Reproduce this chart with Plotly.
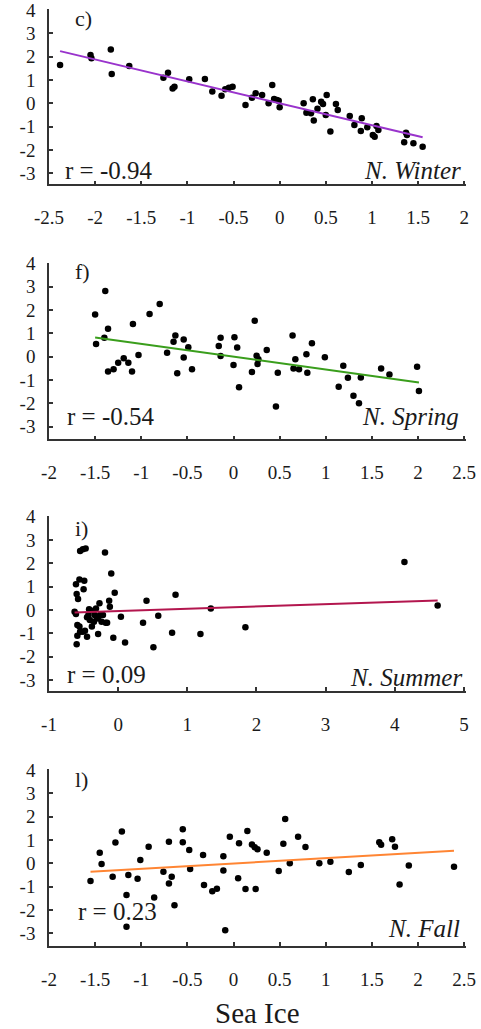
import plotly.graph_objects as go

# ---------------- data ----------------
winter_x = [-2.38, -2.05, -2.04, -1.83, -1.82, -1.63, -1.26, -1.21, -1.16, -1.14, -0.98, -0.81, -0.73,
            -0.63, -0.59, -0.55, -0.51, -0.37, -0.30, -0.26, -0.19, -0.12, -0.08, -0.06, -0.03, -0.01,
            0.0, 0.26, 0.29, 0.34, 0.36, 0.37, 0.41, 0.45, 0.47, 0.50, 0.51, 0.55, 0.61, 0.63, 0.76,
            0.81, 0.88, 0.89, 0.95, 1.01, 1.03, 1.05, 1.07, 1.35, 1.37, 1.38, 1.45, 1.55]
winter_y = [1.64, 2.07, 1.93, 2.31, 1.26, 1.60, 1.10, 1.31, 0.64, 0.71, 1.03, 1.04, 0.51,
            0.33, 0.60, 0.67, 0.71, -0.07, 0.24, 0.43, 0.36, 0.00, 0.79, 0.19, 0.14, 0.11,
            -0.17, 0.00, -0.40, -0.43, 0.17, -0.74, -0.23, 0.07, -0.03, -0.50, 0.36, -1.21, -0.03, -0.29, -0.54,
            -0.93, -1.19, -0.64, -1.03, -1.36, -1.43, -0.97, -1.14, -1.67, -1.26, -1.36, -1.71, -1.86]

spring_x = [-1.50, -1.49, -1.40, -1.39, -1.36, -1.36, -1.30, -1.25, -1.19, -1.14, -1.10, -1.09, -1.03,
            -0.91, -0.80, -0.72, -0.65, -0.63, -0.61, -0.54, -0.54, -0.49, -0.45, -0.16, -0.14, -0.14,
            0.00, 0.01, 0.04, 0.06, 0.20, 0.23, 0.25, 0.26, 0.27, 0.36, 0.46, 0.48, 0.64, 0.65, 0.67,
            0.71, 0.79, 0.80, 0.85, 0.99, 1.14, 1.19, 1.24, 1.30, 1.36, 1.38, 1.60, 1.69, 1.99, 2.01]
spring_y = [1.81, 0.54, 0.81, 2.81, 1.20, -0.64, -0.54, -0.26, -0.07, -0.26, -0.64, 1.40, 0.07,
            1.83, 2.26, 0.17, 0.64, 0.91, -0.71, -0.04, 0.74, 0.40, -0.54, 0.46, 0.81, 0.03,
            -0.36, 0.83, 0.39, -1.31, -0.66, 1.54, 0.04, -0.31, -0.11, 0.29, -2.14, -0.69, 0.91, -0.51, -0.11,
            -0.54, 0.10, -0.69, 0.57, -0.03, -1.29, -0.39, -0.90, -1.67, -2.00, -0.89, -0.51, -0.76, -0.43, -1.47]

summer_x = [-0.61, -0.60, -0.58, -0.63, -0.61, -0.59, -0.60, -0.59, -0.56, -0.55, -0.51, -0.47, -0.49,
            -0.50, -0.56, -0.55, -0.51, -0.48, -0.45, -0.45, -0.43, -0.42, -0.41, -0.38, -0.36, -0.35,
            -0.34, -0.32, -0.31, -0.29, -0.29, -0.27, -0.26, -0.24, -0.22, -0.19, -0.18, -0.16, -0.13,
            -0.12, -0.10, -0.07, -0.05, 0.04, 0.10, 0.36, 0.41, 0.51, 0.58, 0.78, 0.83, 1.19, 1.34,
            1.84, 4.14, 4.62]
summer_y = [1.11, 0.69, 0.47, -0.07, -0.17, -0.64, -1.47, -1.10, 1.31, 2.53, 2.60, 2.64, 1.26,
            0.89, -0.71, -0.93, -0.93, -0.89, -1.14, -0.31, -0.21, 0.03, -0.43, -0.71, -0.03, -0.50,
            -0.21, 0.07, -0.29, -1.03, -0.36, 0.29, -0.21, -0.50, -0.21, 2.47, -0.54, -0.54, 0.40,
            0.14, 1.57, -1.19, 0.74, -0.29, -1.39, -0.54, 0.40, -1.60, -0.24, -0.97, 0.66, -1.03, 0.07,
            -0.74, 2.06, 0.19]

fall_x = [-1.55, -1.45, -1.43, -1.31, -1.28, -1.21, -1.16, -1.16, -1.14, -1.04, -1.01, -0.92, -0.86,
          -0.76, -0.70, -0.70, -0.67, -0.64, -0.55, -0.55, -0.48, -0.47, -0.33, -0.32, -0.23, -0.18,
          -0.11, -0.11, -0.09, -0.04, 0.05, 0.06, 0.13, 0.15, 0.20, 0.23, 0.24, 0.26, 0.36, 0.49,
          0.54, 0.56, 0.61, 0.70, 0.78, 0.93, 1.05, 1.25, 1.38, 1.58, 1.60, 1.72, 1.75, 1.80, 1.90, 2.39]
fall_y = [-0.76, 0.46, -0.03, -0.57, 0.89, 1.36, -1.36, -2.71, -0.50, -0.66, 0.14, 0.71, -1.46,
          -0.36, -0.86, 0.93, -0.57, -1.79, 1.46, 0.91, 0.57, -0.24, 0.36, -0.93, -1.19, -1.09,
          0.31, -0.31, -2.87, 1.14, -0.64, 0.86, -1.10, 1.39, 0.81, 0.69, -1.10, 0.60, 0.46, -0.33,
          0.84, 1.90, 0.00, 1.14, 0.70, 0.00, 0.07, -0.37, -0.07, 0.90, 0.80, 1.03, 0.71, -0.90, -0.09, -0.14]

# regression lines: slope, intercept
fit_slope = [-0.94, -0.55, 0.096, 0.229]
fit_intercept = [0.0, 0.0, -0.04, -0.005]

panel_letters = ["c)", "f)", "i)", "l)"]
r_labels = ["r = -0.94", "r = -0.54", "r = 0.09", "r = 0.23"]
season_labels = ["N. Winter", "N. Spring", "N. Summer", "N. Fall"]
line_colors = ["#9933CC", "#3A9E1C", "#B3164E", "#FF8533"]
x_ranges = [[-2.5, 2.02], [-2.0, 2.52], [-1.0, 5.03], [-2.0, 2.52]]
x_tickvals = [
    [-2.5, -2, -1.5, -1, -0.5, 0, 0.5, 1, 1.5, 2],
    [-2, -1.5, -1, -0.5, 0, 0.5, 1, 1.5, 2, 2.5],
    [-1, 0, 1, 2, 3, 4, 5],
    [-2, -1.5, -1, -0.5, 0, 0.5, 1, 1.5, 2, 2.5],
]
y_tickvals = [-3, -2, -1, 0, 1, 2, 3, 4]
x_title = "Sea Ice"


def fmt(v):
    # hyphen-minus labels as in the reference
    return ("%g" % v).replace("\u2212", "-")


# ---------------- layout geometry ----------------
W, H = 481, 1029
x_dom = [49 / W, 466 / W]
panels_px = [(9.3, 184.3), (263.3, 439.3), (516, 691), (769.3, 946)]
y_ranges = [[-3.47, 4.03], [-3.54, 4.0], [-3.47, 4.03], [-3.54, 4.03]]
letter_y = [0.95, 0.952, 0.93, 0.943]
r_pos = [(0.034, 0.078), (0.038, 0.132), (0.038, 0.095), (0.065, 0.194)]
season_pos = [(0.992, 0.078), (0.988, 0.132), (0.995, 0.08), (0.99, 0.10)]

FONT = "Liberation Serif"
TXT = "#1a1a1a"
xs = [winter_x, spring_x, summer_x, fall_x]
ys = [winter_y, spring_y, summer_y, fall_y]

fig = go.Figure()
layout = dict(
    width=W, height=H, margin=dict(l=0, r=0, t=0, b=0, autoexpand=False),
    paper_bgcolor="white", plot_bgcolor="white", showlegend=False,
    font=dict(family=FONT, size=19, color=TXT),
)
annotations = []
for i in range(4):
    n = "" if i == 0 else str(i + 1)
    xa, ya = "x" + n, "y" + n
    fig.add_trace(go.Scatter(x=xs[i], y=ys[i], mode="markers", xaxis=xa, yaxis=ya,
                             marker=dict(color="black", size=6.5)))
    x0, x1 = min(xs[i]), max(xs[i])
    fig.add_trace(go.Scatter(x=[x0, x1],
                             y=[fit_slope[i] * x0 + fit_intercept[i], fit_slope[i] * x1 + fit_intercept[i]],
                             mode="lines", xaxis=xa, yaxis=ya,
                             line=dict(color=line_colors[i], width=2)))
    top, bot = panels_px[i]
    layout["xaxis" + n] = dict(
        domain=x_dom, anchor=ya, range=x_ranges[i], automargin=False,
        tickmode="array", tickvals=x_tickvals[i], ticktext=[fmt(v) for v in x_tickvals[i]],
        showline=True, linecolor="#333", linewidth=1.5, mirror=False,
        ticks="inside", ticklen=4, tickcolor="#333", tickwidth=1.5,
        showgrid=False, zeroline=False, ticklabelstandoff=15, ticklabeloverflow="allow",
        tickfont=dict(family=FONT, size=19, color=TXT),
    )
    layout["yaxis" + n] = dict(
        domain=[1 - bot / H, 1 - top / H], anchor=xa, range=y_ranges[i], automargin=False,
        tickmode="array", tickvals=y_tickvals, ticktext=[fmt(v) for v in y_tickvals],
        showline=True, linecolor="#333", linewidth=1.5, mirror=False,
        ticks="inside", ticklen=4, tickcolor="#333", tickwidth=1.5,
        showgrid=False, zeroline=False, ticklabelstandoff=8, ticklabeloverflow="allow",
        tickfont=dict(family=FONT, size=19, color=TXT),
    )
    annotations.append(dict(text=panel_letters[i], xref=xa + " domain", yref=ya + " domain",
                            x=0.058, y=letter_y[i], xanchor="left", yanchor="middle", showarrow=False,
                            font=dict(family=FONT, size=22, color=TXT)))
    annotations.append(dict(text=r_labels[i], xref=xa + " domain", yref=ya + " domain",
                            x=r_pos[i][0], y=r_pos[i][1], xanchor="left", yanchor="middle", showarrow=False,
                            font=dict(family=FONT, size=25, color=TXT)))
    annotations.append(dict(text="<i>" + season_labels[i] + "</i>", xref=xa + " domain", yref=ya + " domain",
                            x=season_pos[i][0], y=season_pos[i][1], xanchor="right", yanchor="middle",
                            showarrow=False, font=dict(family=FONT, size=25, color=TXT)))

annotations.append(dict(text=x_title, xref="paper", yref="paper", x=(49 + 466) / 2 / W, y=1 - 1013 / H,
                        xanchor="center", yanchor="middle", showarrow=False,
                        font=dict(family=FONT, size=29, color=TXT)))
layout["annotations"] = annotations
fig.update_layout(**layout)
fig.write_html("out.html", config={"displayModeBar": False},
               post_script="document.body.style.margin='0px';document.body.style.overflow='hidden';")
